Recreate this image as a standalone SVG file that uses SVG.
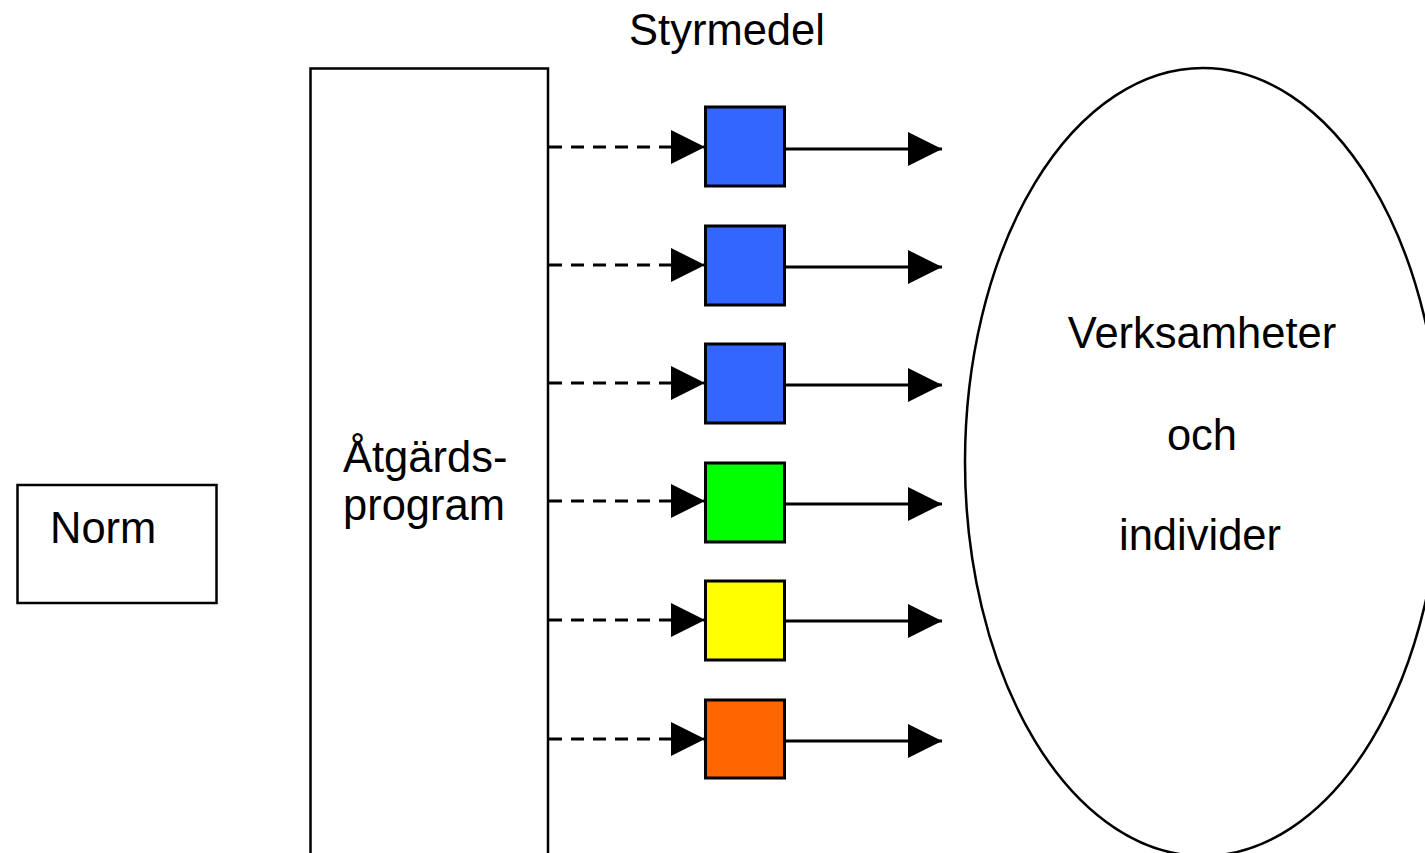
<svg xmlns="http://www.w3.org/2000/svg" width="1425" height="853" viewBox="0 0 1425 853">
<style>
text{font-family:"Liberation Sans",Arial,sans-serif;font-size:43.5px;fill:#000}
.box{fill:#fff;stroke:#000;stroke-width:2.5}
.sq{stroke:#000;stroke-width:3}
.dash{stroke:#000;stroke-width:3;stroke-dasharray:13 9;fill:none}
.solid{stroke:#000;stroke-width:3;fill:none}
</style>
<defs>
<marker id="ah" markerUnits="userSpaceOnUse" markerWidth="34" markerHeight="34" refX="34" refY="17" orient="auto" viewBox="0 0 34 34">
<path d="M0,0 L34,17 L0,34 Z" fill="#000"/>
</marker>
</defs>
<rect width="1425" height="853" fill="#fff"/>
<text x="727" y="45" text-anchor="middle">Styrmedel</text>
<g id="norm">
<rect class="box" x="17.5" y="485" width="199" height="118"/>
<text x="50" y="543">Norm</text>
</g>
<g id="atgardsprogram">
<rect class="box" x="310.5" y="68.5" width="237.5" height="800"/>
<text x="343" y="472">Åtgärds-</text>
<text x="343" y="520">program</text>
</g>
<g id="verksamheter">
<ellipse cx="1203" cy="462" rx="238" ry="394" fill="#fff" stroke="#000" stroke-width="2.5"/>
<text x="1202" y="348" text-anchor="middle">Verksamheter</text>
<text x="1202" y="450" text-anchor="middle">och</text>
<text x="1200" y="550" text-anchor="middle">individer</text>
</g>
<g id="styrmedel1"><rect class="sq" x="705.5" y="107" width="79" height="79" fill="#3366FF"/></g>
<g id="styrmedel2"><rect class="sq" x="705.5" y="226" width="79" height="79" fill="#3366FF"/></g>
<g id="styrmedel3"><rect class="sq" x="705.5" y="344" width="79" height="79" fill="#3366FF"/></g>
<g id="styrmedel4"><rect class="sq" x="705.5" y="463" width="79" height="79" fill="#00FF00"/></g>
<g id="styrmedel5"><rect class="sq" x="705.5" y="581" width="79" height="79" fill="#FFFF00"/></g>
<g id="styrmedel6"><rect class="sq" x="705.5" y="700" width="79" height="78" fill="#FF6600"/></g>
<g id="connectors">
<line class="dash" x1="549" y1="147" x2="705" y2="147" marker-end="url(#ah)"/>
<line class="dash" x1="549" y1="265" x2="705" y2="265" marker-end="url(#ah)"/>
<line class="dash" x1="549" y1="383" x2="705" y2="383" marker-end="url(#ah)"/>
<line class="dash" x1="549" y1="501" x2="705" y2="501" marker-end="url(#ah)"/>
<line class="dash" x1="549" y1="620" x2="705" y2="620" marker-end="url(#ah)"/>
<line class="dash" x1="549" y1="739" x2="705" y2="739" marker-end="url(#ah)"/>
<line class="solid" x1="785" y1="149" x2="942" y2="149" marker-end="url(#ah)"/>
<line class="solid" x1="785" y1="267" x2="942" y2="267" marker-end="url(#ah)"/>
<line class="solid" x1="785" y1="385" x2="942" y2="385" marker-end="url(#ah)"/>
<line class="solid" x1="785" y1="504" x2="942" y2="504" marker-end="url(#ah)"/>
<line class="solid" x1="785" y1="621" x2="942" y2="621" marker-end="url(#ah)"/>
<line class="solid" x1="785" y1="741" x2="942" y2="741" marker-end="url(#ah)"/>
</g>
</svg>
